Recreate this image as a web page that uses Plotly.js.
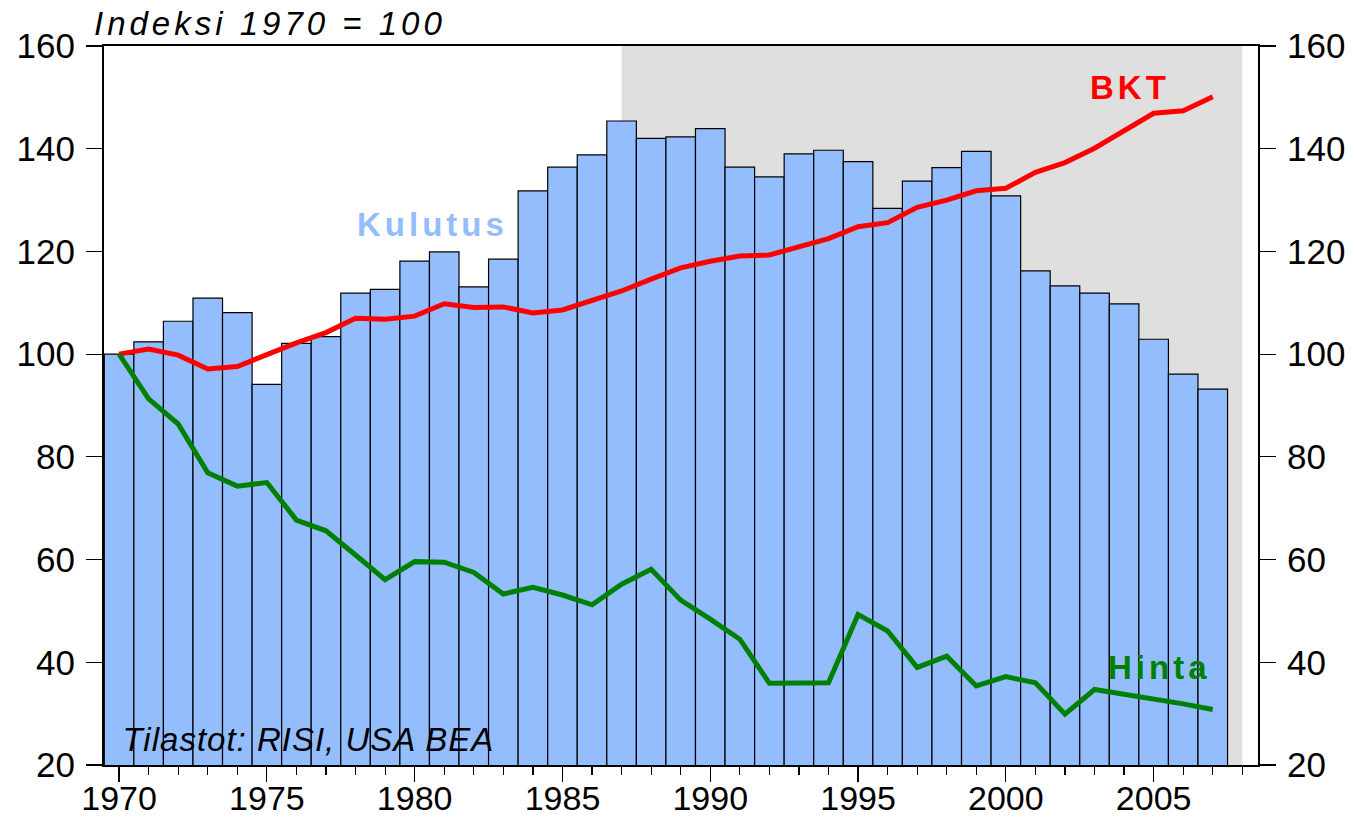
<!DOCTYPE html>
<html>
<head>
<meta charset="utf-8">
<script src="https://cdn.plot.ly/plotly-3.0.1.min.js"></script>
<style>
html,body{margin:0;padding:0;background:#fff;}
#chart{width:1354px;height:817px;}
#chart .annotation-text{letter-spacing:4px;}
</style>
</head>
<body>
<div id="chart"></div>
<script>
const years = [1970,1971,1972,1973,1974,1975,1976,1977,1978,1979,1980,1981,1982,1983,1984,1985,1986,1987,1988,1989,1990,1991,1992,1993,1994,1995,1996,1997,1998,1999,2000,2001,2002,2003,2004,2005,2006,2007];
const kulutus = [100.0,102.4,106.4,110.9,108.1,94.1,102.1,103.4,111.9,112.6,118.1,119.9,113.1,118.5,131.8,136.4,138.8,145.4,142.0,142.3,143.9,136.4,134.5,139.0,139.7,137.5,128.4,133.7,136.3,139.5,130.8,116.2,113.3,111.9,109.8,102.9,96.1,93.2];
const bkt = [100.0,101.0,99.8,97.1,97.6,99.9,102.2,104.2,107.0,106.8,107.4,109.8,109.1,109.2,108.0,108.6,110.5,112.3,114.6,116.8,118.1,119.1,119.3,120.8,122.5,124.8,125.6,128.6,130.0,131.8,132.3,135.4,137.3,140.1,143.5,146.9,147.4,150.1];
const hinta = [100.0,91.3,86.4,76.9,74.3,75.0,67.7,65.6,60.9,56.1,59.6,59.5,57.5,53.3,54.6,53.1,51.2,55.2,58.1,52.1,48.4,44.5,35.9,35.9,36.0,49.3,46.1,39.0,41.2,35.4,37.2,36.0,29.9,34.7,33.8,33.0,31.9,30.8];
const xTickVals = [1970,1975,1980,1985,1990,1995,2000,2005];
const yTickVals = [20,40,60,80,100,120,140,160];
const shadeStart = 1987, shadeEnd = 2008;

const FONT = 'Liberation Sans, Arial, sans-serif';

const traces = [
  {type:'bar', x:years, y:kulutus, width:1, name:'Kulutus',
   marker:{color:'#94BDFE', line:{color:'#000000', width:1.2}}, yaxis:'y'},
  {type:'scatter', mode:'lines', x:years, y:bkt, name:'BKT',
   line:{color:'#FF0000', width:5}, yaxis:'y2'},
  {type:'scatter', mode:'lines', x:years, y:hinta, name:'Hinta',
   line:{color:'#008000', width:5}, yaxis:'y2'}
];

const axisY = {
  range:[20,160], tickvals:yTickVals, ticks:'outside', ticklen:16, tickwidth:1.2,
  tickcolor:'#000', showgrid:false, zeroline:false, showline:true, linecolor:'#000', linewidth:2,
  tickfont:{family:FONT, size:35, color:'#000'}, ticklabelstandoff:4, fixedrange:true
};

const layout = {
  width:1354, height:817,
  margin:{l:104, r:96, t:46, b:52},
  paper_bgcolor:'#ffffff', plot_bgcolor:'#ffffff',
  showlegend:false, bargap:0,
  xaxis:{range:[1969.49,2008.53], tickvals:xTickVals, ticks:'outside', ticklen:15, tickwidth:1.2,
    tickcolor:'#000', showgrid:false, zeroline:false, showline:true, mirror:true,
    linecolor:'#000', linewidth:2, tickfont:{family:FONT, size:34, color:'#000'},
    minor:{dtick:1, tick0:1970, ticks:'outside', ticklen:8, tickwidth:1.2, tickcolor:'#000', showgrid:false},
    ticklabelstandoff:-13},
  yaxis:Object.assign({}, axisY, {side:'left'}),
  yaxis2:Object.assign({}, axisY, {side:'right', overlaying:'y'}),
  shapes:[
    {type:'rect', xref:'x', yref:'paper', x0:shadeStart, x1:shadeEnd, y0:0, y1:1,
     fillcolor:'#DFDFDF', line:{width:0}, layer:'below'}
  ],
  annotations:[
    {xref:'paper', yref:'paper', x:0.021, y:1.0, xanchor:'left', yanchor:'bottom', yshift:2,
     text:'<i>Indeksi 1970 = 100</i>', showarrow:false, font:{family:FONT, size:33, color:'#000'}},
    {xref:'x', yref:'y', x:1970.44, y:24.9, xanchor:'left', yanchor:'middle',
     text:'<i>Tilastot: RISI, USA BEA</i>', showarrow:false, font:{family:FONT, size:33, color:'#000'}},
    {xref:'x', yref:'y', x:1978.44, y:125.3, xanchor:'left', yanchor:'middle',
     text:'<b>Kulutus</b>', showarrow:false, font:{family:FONT, size:33, color:'#94BDFE'}},
    {xref:'x', yref:'y', x:2002.97, y:152.0, xanchor:'left', yanchor:'middle',
     text:'<b>BKT</b>', showarrow:false, font:{family:FONT, size:33, color:'#FF0000'}},
    {xref:'x', yref:'y', x:2003.74, y:38.9, xanchor:'left', yanchor:'middle',
     text:'<b>Hinta</b>', showarrow:false, font:{family:FONT, size:33, color:'#008000'}}
  ]
};

Plotly.newPlot('chart', traces, layout, {displayModeBar:false, staticPlot:true}).then(function(){
  const anns = document.querySelectorAll('#chart .annotation');
  if (anns[1]) { const t = anns[1].querySelector('.annotation-text'); if (t) t.style.letterSpacing = '1px'; }
});
</script>
</body>
</html>
